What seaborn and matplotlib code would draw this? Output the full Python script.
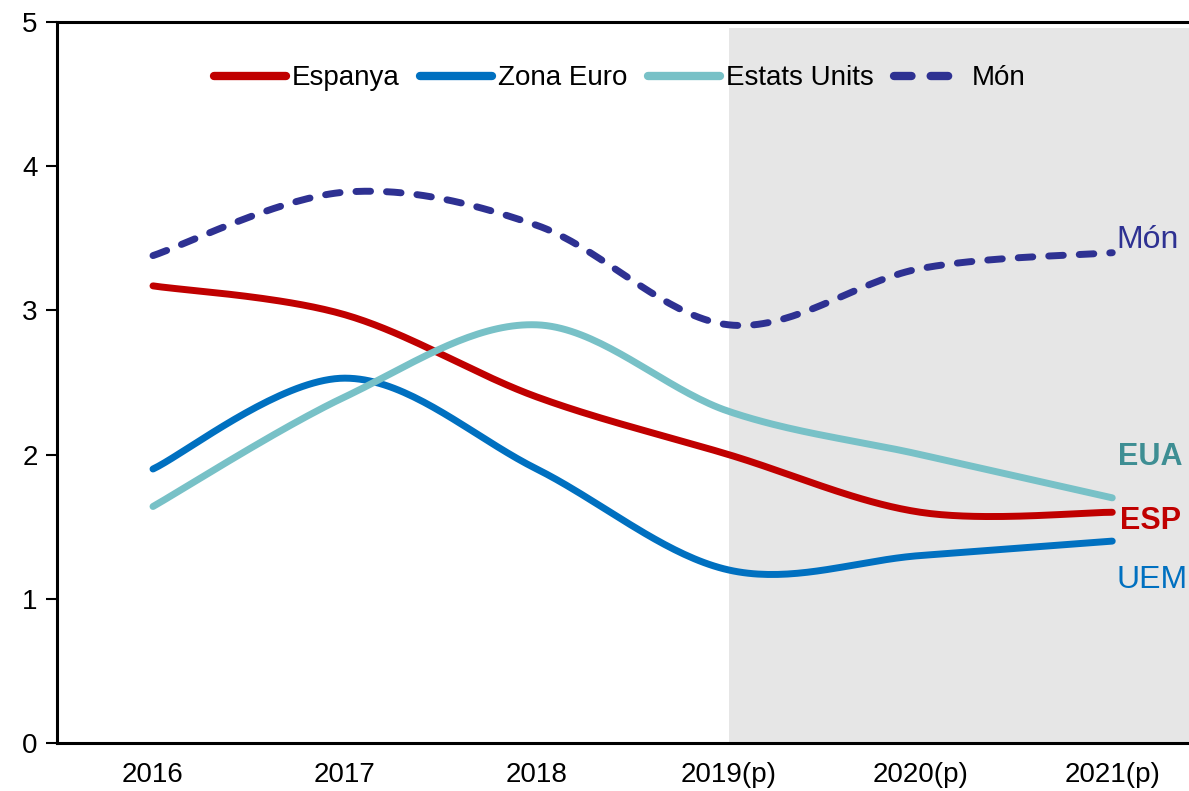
import numpy as np
import pandas as pd
import matplotlib
matplotlib.use("Agg")
import matplotlib.pyplot as plt
import seaborn as sns

years = ["2016", "2017", "2018", "2019(p)", "2020(p)", "2021(p)"]
espanya = [3.17, 2.97, 2.40, 2.00, 1.60, 1.60]
zona_euro = [1.90, 2.53, 1.90, 1.20, 1.30, 1.40]
estats_units = [1.64, 2.40, 2.90, 2.30, 2.00, 1.70]
mon = [3.38, 3.82, 3.59, 2.90, 3.29, 3.40]

series = {"Espanya": espanya, "Zona Euro": zona_euro,
          "Estats Units": estats_units, "Món": mon}
colors = {"Espanya": "#C00000", "Zona Euro": "#0070C0",
          "Estats Units": "#78C1C7", "Món": "#2E3192"}


def smooth(y, n=40):
    # excel-like smoothed line (catmull-rom / bezier)
    y = np.asarray(y, float)
    x = np.arange(len(y), dtype=float)
    px = np.concatenate([[x[0]], x, [x[-1]]])
    py = np.concatenate([[y[0]], y, [y[-1]]])
    xs, ys = [], []
    t = np.linspace(0, 1, n)
    for i in range(len(y) - 1):
        p0 = np.array([px[i], py[i]])
        p1 = np.array([px[i + 1], py[i + 1]])
        p2 = np.array([px[i + 2], py[i + 2]])
        p3 = np.array([px[i + 3], py[i + 3]])
        c1 = p1 + (p2 - p0) / 6
        c2 = p2 - (p3 - p1) / 6
        b = ((1 - t)[:, None] ** 3 * p1 + 3 * ((1 - t) ** 2 * t)[:, None] * c1
             + 3 * ((1 - t) * t ** 2)[:, None] * c2 + (t ** 3)[:, None] * p2)
        xs.extend(b[:, 0])
        ys.extend(b[:, 1])
    return np.array(xs), np.array(ys)


sns.set_theme(style="white")
plt.rcParams["font.family"] = ["Liberation Sans", "DejaVu Sans"]
plt.rcParams["text.color"] = "black"
plt.rcParams["xtick.color"] = "black"
plt.rcParams["ytick.color"] = "black"

fig = plt.figure(figsize=(11.89, 7.91), dpi=100)
ax = fig.add_axes([0.048, 0.0607, 0.952, 0.9115])

ax.axvspan(3, 5.5, ymax=0.992, color="#E6E6E6", zorder=0, lw=0)

lw = 5
for name, vals in series.items():
    sx, sy = smooth(vals)
    df = pd.DataFrame({"x": sx, "y": sy})
    if name == "Món":
        sns.lineplot(data=df, x="x", y="y", ax=ax, color=colors[name], lw=lw,
                     label=name, sort=False, dashes=False,
                     linestyle=(0, (2.1, 2.3)), dash_capstyle="round")
    else:
        sns.lineplot(data=df, x="x", y="y", ax=ax, color=colors[name], lw=lw,
                     label=name, sort=False, solid_capstyle="round")

ax.set_xlim(-0.5, 5.4)
ax.set_ylim(0, 5)
ax.set_xticks(range(len(years)))
ax.set_xticklabels(years)
ax.set_yticks(range(6))
ax.set_xlabel("")
ax.set_ylabel("")
ax.tick_params(axis="x", length=0, labelsize=20, pad=14)
ax.tick_params(axis="y", length=8, width=1.5, direction="out", labelsize=20,
               pad=6, left=True)
ax.spines["right"].set_visible(False)
for s in ["left", "bottom", "top"]:
    ax.spines[s].set_color("black")
    ax.spines[s].set_linewidth(2.2)

ax.text(5.02, 3.49, "Món", color="#2E3192", fontsize=23, va="center")
ax.text(5.03, 1.98, "EUA", color="#3E8E93", fontsize=22, fontweight="bold", va="center")
ax.text(5.04, 1.54, "ESP", color="#C00000", fontsize=22, fontweight="bold", va="center")
ax.text(5.02, 1.13, "UEM", color="#0070C0", fontsize=23, va="center")

leg = ax.legend(loc="center", bbox_to_anchor=(0.497, 0.922), ncol=4, frameon=False,
                fontsize=20, handlelength=2.6, handletextpad=0.2, columnspacing=0.75)
for h in leg.get_lines():
    h.set_linewidth(6)

fig.savefig("out.png", dpi=100)
